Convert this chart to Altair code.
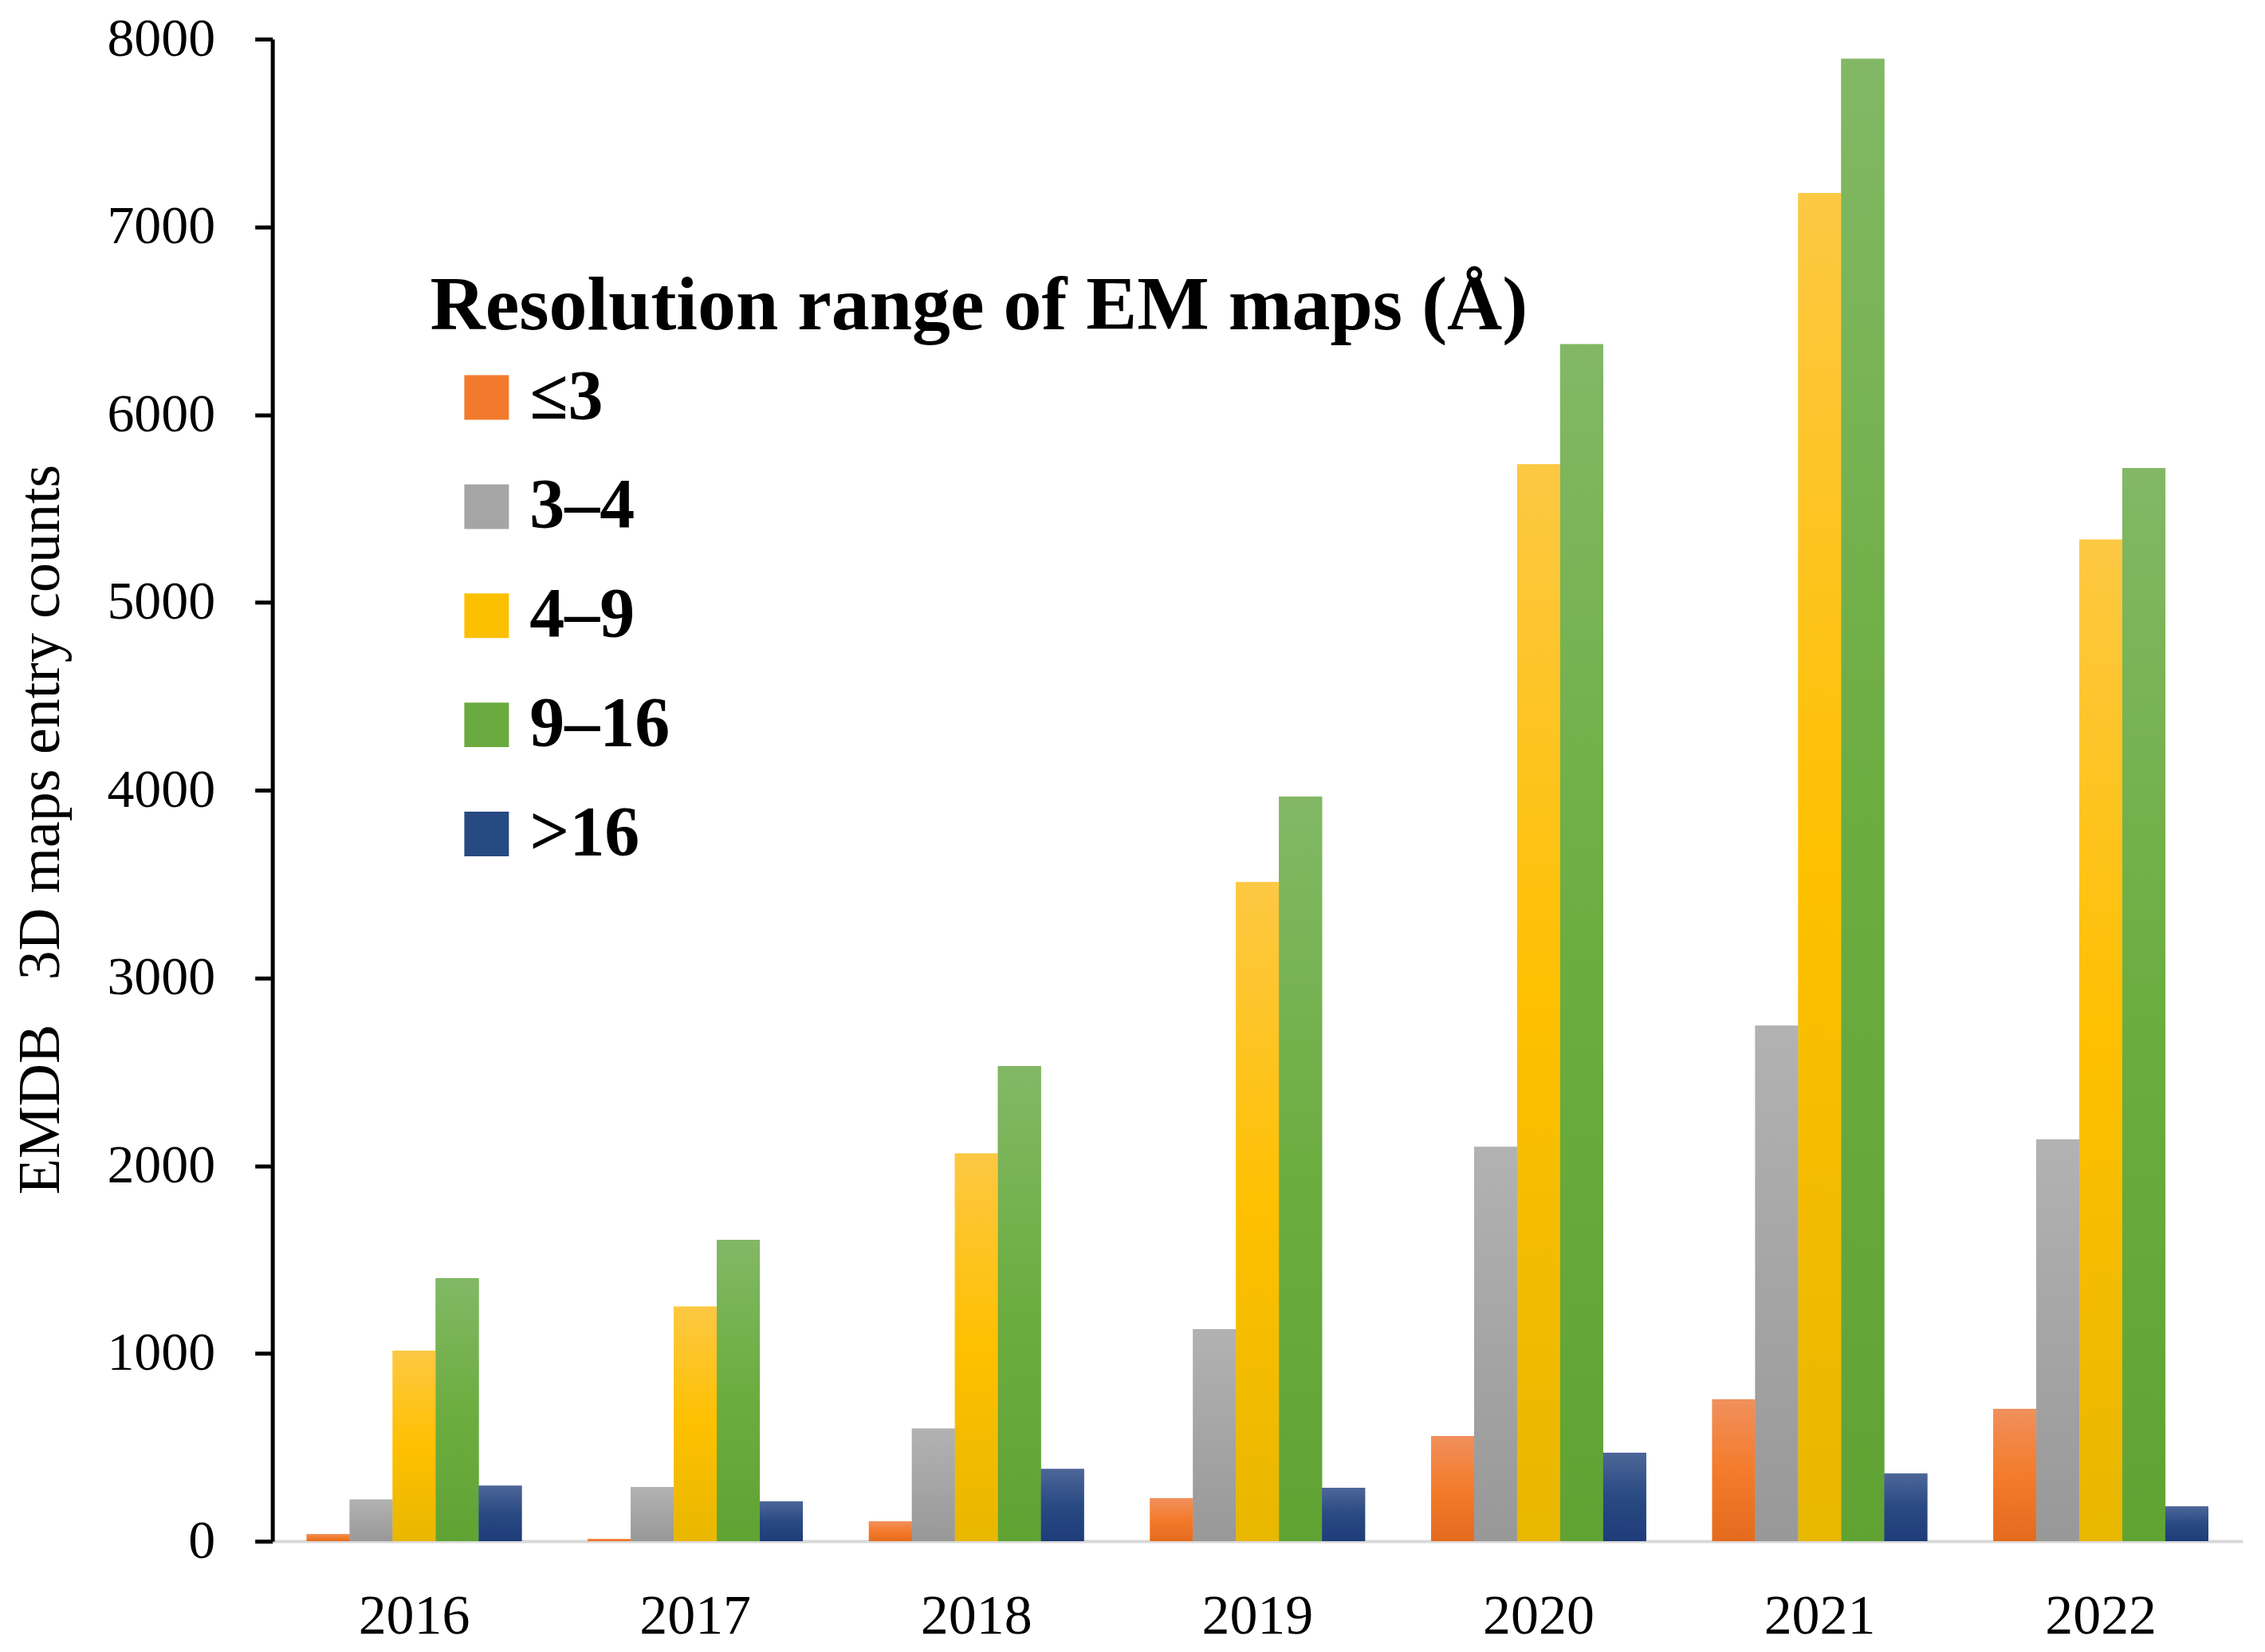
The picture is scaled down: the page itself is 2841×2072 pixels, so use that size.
import altair as alt
import pandas as pd

years = ["2016", "2017", "2018", "2019", "2020", "2021", "2022"]
ranges = ["≤3", "3–4", "4–9", "9–16", ">16"]

le3 = [38, 12, 105, 230, 560, 755, 705]
r3_4 = [222, 288, 600, 1130, 2100, 2745, 2140]
r4_9 = [1015, 1250, 2065, 3510, 5735, 7180, 5335]
r9_16 = [1400, 1605, 2530, 3965, 6375, 7895, 5715]
gt16 = [295, 213, 385, 285, 470, 360, 185]

series = [le3, r3_4, r4_9, r9_16, gt16]

rows = []
for name, vals in zip(ranges, series):
    for yr, v in zip(years, vals):
        rows.append({"year": yr, "res": name, "count": v})
df = pd.DataFrame(rows)

mid_colors = ["#F27A2C", "#A5A5A5", "#FBC000", "#6BAA3E", "#284A83"]
grad_stops = [
    ("#F0905C", "#F47B2B", "#E46B1E"),
    ("#B2B2B2", "#A5A5A5", "#989898"),
    ("#FDC843", "#FEC000", "#E8B700"),
    ("#82B865", "#6CAD40", "#60A333"),
    ("#4D6698", "#294A83", "#1E3C79"),
]


def grad(c):
    return {
        "gradient": "linear",
        "x1": 0, "y1": 0, "x2": 0, "y2": 1,
        "stops": [
            {"offset": 0, "color": c[0]},
            {"offset": 0.5, "color": c[1]},
            {"offset": 1, "color": c[2]},
        ],
    }


FONT = "Liberation Serif"

x_enc = alt.X(
    "year:N",
    sort=years,
    scale=alt.Scale(paddingInner=0.235, paddingOuter=0.122),
    axis=alt.Axis(
        title=None,
        labelAngle=0,
        ticks=False,
        domainColor="#D9D9D9",
        domainWidth=4,
        labelFontSize=70,
        labelColor="black",
        labelBaseline="alphabetic",
        labelPadding=116,
    ),
)
xo_enc = alt.XOffset("res:N", sort=ranges, scale=alt.Scale(paddingInner=0, paddingOuter=0))
y_enc = alt.Y(
    "count:Q",
    scale=alt.Scale(domain=[0, 8000], nice=False),
    axis=alt.Axis(
        title="EMDB\u00a0\u00a0\u00a03D maps entry counts",
        values=list(range(0, 8001, 1000)),
        format="d",
        grid=False,
        domainColor="black",
        domainWidth=5,
        tickColor="black",
        tickWidth=5,
        tickSize=22,
        labelFontSize=68,
        labelColor="black",
        labelPadding=50,
        titleFontSize=74,
        titleFontWeight="normal",
        titleColor="black",
        titleAngle=270,
        titleAlign="center",
        titleBaseline="alphabetic",
        titleX=-268,
        titleY=992,
    ),
)

legend = alt.Legend(
    title="Resolution range of EM maps (Å)",
    orient="none",
    legendX=198,
    legendY=288,
    padding=0,
    titleFontSize=96,
    titleFontWeight="bold",
    titleColor="black",
    titleLimit=3000,
    titlePadding=22,
    labelFontSize=88,
    labelFontWeight="bold",
    labelColor="black",
    labelLimit=1000,
    labelOffset=10,
    symbolType="square",
    symbolSize=3136,
    symbolStrokeWidth=0,
    symbolOffset=27,
    rowPadding=49,
)

solid = alt.Chart(df).mark_bar().encode(
    x=x_enc,
    xOffset=xo_enc,
    y=y_enc,
    color=alt.Color("res:N", sort=ranges, scale=alt.Scale(domain=ranges, range=mid_colors), legend=legend),
)

conds = [
    {"test": f"datum.res === '{r}'", "value": grad(g)}
    for r, g in zip(ranges[:-1], grad_stops[:-1])
]
shaded = alt.Chart(df).mark_bar().encode(
    x=x_enc,
    xOffset=xo_enc,
    y=y_enc,
    fill=alt.value(grad(grad_stops[-1]), condition=conds),
)

chart = (
    alt.layer(solid, shaded)
    .properties(
        width=2474,
        height=1886,
        padding={"left": 334, "top": 40, "right": 20, "bottom": 134},
        autosize=alt.AutoSizeParams(type="none"),
    )
    .configure(font=FONT)
    .configure_view(stroke=None)
)

chart.save("out.html", embed_options={"renderer": "svg", "actions": False})
